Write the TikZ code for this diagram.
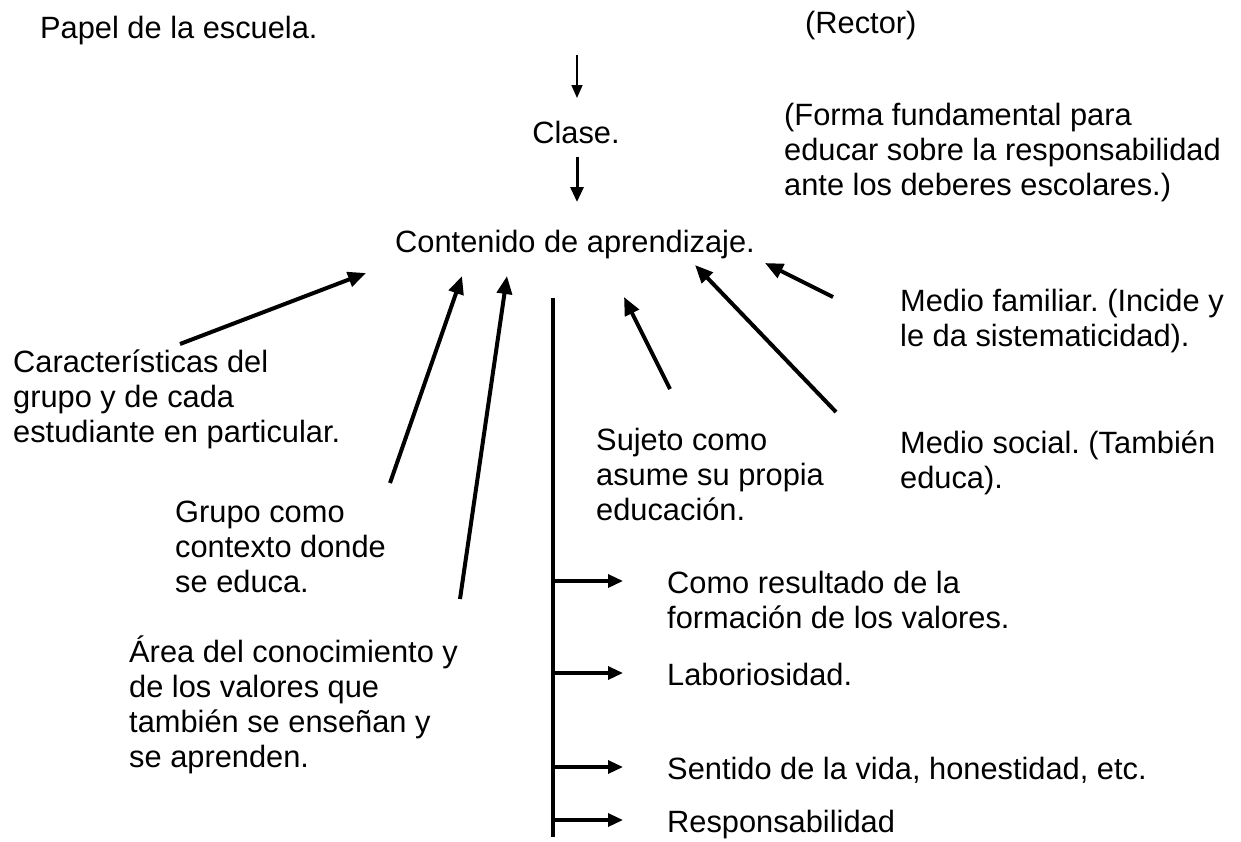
\documentclass[tikz,border=0pt]{standalone}
\usepackage{fontspec}
\setmainfont{Liberation Sans}
\usetikzlibrary{arrows.meta}
\frenchspacing
\begin{document}
\begin{tikzpicture}[x=1pt,y=-1pt,
  txt/.style={anchor=base west,inner sep=0pt,align=left,font=\fontsize{30.8}{35}\selectfont\frenchspacing},
  ctxt/.style={anchor=base,inner sep=0pt,font=\fontsize{30.8}{35}\selectfont\frenchspacing},
  arr/.style={line width=4pt,-{Triangle[length=18pt,width=15pt]}},
  thinarr/.style={line width=1.7pt,-{Triangle[length=13pt,width=11pt]}},
  midarr/.style={line width=3pt,-{Triangle[length=15pt,width=13pt]}},
  brarr/.style={line width=3.3pt,-{Triangle[length=15pt,width=13pt]}}]
\useasboundingbox (0,0) rectangle (1241,841);
% texts (multi-line nodes: base = baseline of last line)
\node[txt] (papel) at (40,38) {Papel de la escuela.};
\node[txt] (rector) at (805,33) {(Rector)};
\node[ctxt] (clase) at (576,143) {Clase.};
\node[txt] (forma) at (784,195) {(Forma fundamental para\\educar sobre la responsabilidad\\ante los deberes escolares.)};
\node[ctxt] (cont) at (575,252) {Contenido de aprendizaje.};
\node[txt] (carac) at (13,442) {Características del\\grupo y de cada\\estudiante en particular.};
\node[txt] (grupo) at (175,592) {Grupo como\\contexto donde\\se educa.};
\node[txt] (area) at (129,767) {Área del conocimiento y\\de los valores que\\también se enseñan y\\se aprenden.};
\node[txt] (sujeto) at (596,520) {Sujeto como\\asume su propia\\educación.};
\node[txt] (famil) at (900,346) {Medio familiar. (Incide y\\le da sistematicidad).};
\node[txt] (social) at (900,488) {Medio social. (También\\educa).};
\node[txt] (como) at (667,628) {Como resultado de la\\formación de los valores.};
\node[txt] (labor) at (667,685) {Laboriosidad.};
\node[txt] (sent) at (667,779) {Sentido de la vida, honestidad, etc.};
\node[txt] (resp) at (667,832) {Responsabilidad};
% connector end points
\coordinate (a0) at (577,55);
\coordinate (a1) at (577,98);
\coordinate (b0) at (577,157);
\coordinate (b1) at (577,202);
\coordinate (c0) at (180,344);
\coordinate (c1) at (366,273);
\coordinate (g0) at (390,483);
\coordinate (g1) at (462,276);
\coordinate (r0) at (460,599);
\coordinate (r1) at (507,276);
\coordinate (s0) at (670,389);
\coordinate (s1) at (624,297);
\coordinate (m0) at (836,412);
\coordinate (m1) at (695,265);
\coordinate (f0) at (833,297);
\coordinate (f1) at (765,263);
\coordinate (v0) at (553,298);
\coordinate (v1) at (553,837);
\coordinate (h1) at (553,581);
\coordinate (h2) at (553,673);
\coordinate (h3) at (553,767);
\coordinate (h4) at (553,820);
\coordinate (t1) at (623,581);
\coordinate (t2) at (623,673);
\coordinate (t3) at (623,767);
\coordinate (t4) at (623,820);
\draw[thinarr] (a0) -- (a1);
\draw[midarr] (b0) -- (b1);
\draw[arr] (c0) -- (c1);
\draw[arr] (g0) -- (g1);
\draw[arr] (r0) -- (r1);
\draw[arr] (s0) -- (s1);
\draw[arr] (m0) -- (m1);
\draw[arr] (f0) -- (f1);
\draw[line width=4pt] (v0) -- (v1);
\draw[brarr] (h1) -- (t1);
\draw[brarr] (h2) -- (t2);
\draw[brarr] (h3) -- (t3);
\draw[brarr] (h4) -- (t4);
\end{tikzpicture}
\end{document}
